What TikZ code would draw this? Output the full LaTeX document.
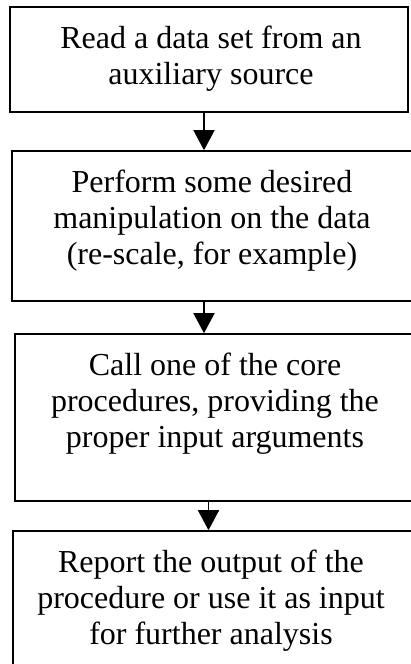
\documentclass[tikz,border=0pt]{standalone}
\usepackage{fontspec}
\setmainfont{Liberation Serif}
\usetikzlibrary{arrows.meta}
\begin{document}
\begin{tikzpicture}[x=1pt,y=1pt,
  box/.style={draw=black, line width=1.6pt, rectangle, inner sep=0pt, fill=white},
  txt/.style={align=center, inner sep=0pt, anchor=north, font=\fontsize{32}{36}\selectfont},
  arr/.style={line width=1.5pt, -{Triangle[length=20pt,width=21pt]}}]
\useasboundingbox (0,0) rectangle (410,-664);
\fill[white] (0,0) rectangle (410,-664);
\node[box, minimum width=398pt, minimum height=105pt] (b1) at (209,-59.5) {};
\node[box, minimum width=402pt, minimum height=150pt] (b2) at (213,-226) {};
\node[box, minimum width=400pt, minimum height=167pt] (b3) at (215,-417.5) {};
\node[box, minimum width=402pt, minimum height=140pt] (b4) at (214,-601) {};
\node[txt] (t1) at (211,-26) {Read a data set from an\\auxiliary source};
\node[txt] (t2) at (212,-170) {Perform some desired\\manipulation on the data\\(re-scale, for example)};
\node[txt] (t3) at (215,-353) {Call one of the core\\procedures, providing the\\proper input arguments};
\node[txt] (t4) at (211,-550) {Report the output of the\\procedure or use it as input\\for further analysis};
\coordinate (c1) at (204,0);
\coordinate (c2) at (204,0);
\coordinate (c3) at (208.5,0);
\draw[arr] (b1.south -| c1) -- (b2.north -| c1);
\draw[arr] (b2.south -| c2) -- (b3.north -| c2);
\draw[arr] (b3.south -| c3) -- (b4.north -| c3);
\end{tikzpicture}
\end{document}
